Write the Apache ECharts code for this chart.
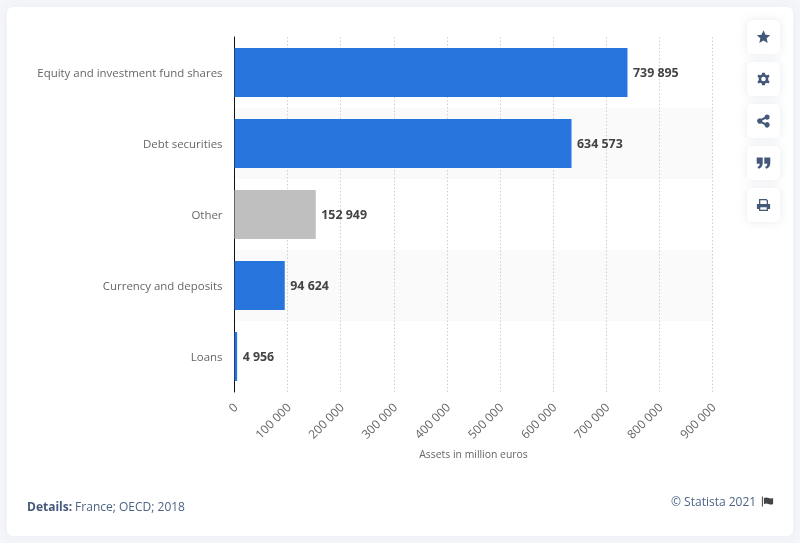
<!DOCTYPE html>
<html><head><meta charset="utf-8">
<script src="https://cdn.jsdelivr.net/npm/echarts@6/dist/echarts.min.js"></script>
<style>html,body{margin:0;padding:0;background:#f4f6fa;overflow:hidden}#c{width:800px;height:543px}</style>
</head><body><div id="c"></div>
<script>
const categories = ["Equity and investment fund shares","Debt securities","Other","Currency and deposits","Loans"];
const values = [739895,634573,152949,94624,4956];
const barColors = ["#2775dc","#2775dc","#bfbfbf","#2775dc","#2775dc"];
const xTicks = {min:0,max:900000,interval:100000};
const axisTitle = "Assets in million euros";
const detailsLabel = "Details:";
const detailsText = " France; OECD; 2018";
const credit = "© Statista 2021";
const FONT = "'Open Sans'";
const fmt = v => String(v).replace(/\B(?=(\d{3})+(?!\d))/g," ");
const ICON = "#44597a";
const buttonTops = [20,62,104,146,188];
const iconScale = [0.78,0.88,1,1,1];
const icons = [
 "M0,-8.5 L2.5,-2.8 L8.6,-2.4 L4,1.6 L5.4,7.6 L0,4.4 L-5.4,7.6 L-4,1.6 L-8.6,-2.4 L-2.5,-2.8 Z",
 "M-1.5,-7 L1.5,-7 L2,-5 L3.7,-4.2 L5.6,-5.2 L7,-3 L5.4,-1.5 L5.4,1.5 L7,3 L5.6,5.2 L3.7,4.2 L2,5 L1.5,7 L-1.5,7 L-2,5 L-3.7,4.2 L-5.6,5.2 L-7,3 L-5.4,1.5 L-5.4,-1.5 L-7,-3 L-5.6,-5.2 L-3.7,-4.2 L-2,-5 Z M0,-2.6 A2.6,2.6 0 1,0 0,2.6 A2.6,2.6 0 1,0 0,-2.6 Z",
 "M3.5,-6.5 A2.6,2.6 0 1,1 3.5,-1.3 A2.6,2.6 0 0,1 1.8,-2 L-1.3,-0.5 A2.6,2.6 0 0,1 -1.3,0.5 L1.8,2 A2.6,2.6 0 1,1 1,3.9 L-2.3,2.2 A2.6,2.6 0 1,1 -2.3,-2.2 L1,-3.9 A2.6,2.6 0 0,1 3.5,-6.5 Z",
 "M-6.8,-5.5 L-0.8,-5.5 L-0.8,0 Q-0.8,4.5 -5,5.8 L-6,4 Q-3.8,3.2 -3.6,0.8 L-6.8,0.8 Z M0.8,-5.5 L6.8,-5.5 L6.8,0 Q6.8,4.5 2.6,5.8 L1.6,4 Q3.8,3.2 4,0.8 L0.8,0.8 Z",
 "M-4.5,-6 L3,-6 L4.5,-4.5 L4.5,-1 L6.6,-1 L6.6,4 L4.5,4 L4.5,6 L-4.5,6 L-4.5,4 L-6.6,4 L-6.6,-1 L-4.5,-1 Z M-3.2,-4.8 L-3.2,-1 L3.2,-1 L3.2,-4 L2.5,-4.8 Z M-3.2,2.2 L-3.2,4.8 L3.2,4.8 L3.2,2.2 Z"
];
const flagPath = "M-5.6,-5 L-4.6,-5 L-4.6,5 L-5.6,5 Z M-3.6,-3.6 Q-1,-4.6 1,-3.4 Q3.5,-2.4 5.6,-3.6 L5.6,2.4 Q3.5,3.6 1,2.4 Q-1,1.4 -3.6,2.4 Z";
icons.forEach((d,i)=>echarts.graphic.registerShape("icon"+i, echarts.graphic.extendPath(d,{})));
echarts.graphic.registerShape("flagIcon", echarts.graphic.extendPath(flagPath,{}));
const graphic = [
 {type:"rect",z:-10,silent:true,shape:{x:7,y:7,width:786,height:529,r:6},
  style:{fill:"#fff",shadowBlur:12,shadowColor:"rgba(60,80,120,0.06)"}}
];
buttonTops.forEach((t,i)=>{
 graphic.push({type:"rect",z:5,silent:true,shape:{x:747,y:t,width:33,height:34,r:5},
  style:{fill:"#fff",shadowBlur:10,shadowColor:"rgba(60,80,120,0.12)"}});
 graphic.push({type:"icon"+i,z:6,silent:true,x:763.5,y:t+17,scaleX:iconScale[i],scaleY:iconScale[i],
  style:{fill:ICON,fillRule:"evenodd"}});
});
graphic.push({type:"text",z:6,x:27,y:502,style:{text:detailsLabel,fontFamily:"Open Sans",fontWeight:"bold",fontSize:12,fill:"#44597a"}});
graphic.push({type:"text",z:6,x:72,y:502,style:{text:detailsText,fontFamily:"Open Sans",fontSize:12,fill:"#4d6485"}});
graphic.push({type:"text",z:6,x:671,y:497,style:{text:credit,fontFamily:"Open Sans",fontSize:12,fill:"#4d6485"}});
graphic.push({type:"flagIcon",z:6,silent:true,x:767.5,y:501.5,style:{fill:"#444"}});

const chart = echarts.init(document.getElementById("c"),null,{renderer:"canvas"});
chart.setOption({
 animation:false,
 backgroundColor:"transparent",
 textStyle:{fontFamily:FONT},
 graphic:graphic,
 grid:{left:234.5,top:37,width:478,height:355,containLabel:false},
 xAxis:{type:"value",min:xTicks.min,max:xTicks.max,interval:xTicks.interval,
  name:axisTitle,nameLocation:"middle",nameGap:58,
  nameTextStyle:{fontFamily:FONT,fontSize:10.4,color:"#666"},
  axisLine:{show:false},axisTick:{show:false},
  axisLabel:{rotate:45,margin:12,verticalAlign:"top",lineHeight:5,fontFamily:FONT,fontSize:12,color:"#666",formatter:v=>fmt(v)},
  splitLine:{show:true,lineStyle:{color:"#cfcfcf",type:[1.5,2],width:1}}},
 yAxis:{type:"category",inverse:true,data:categories,
  axisLine:{show:true,lineStyle:{color:"#111",width:1}},axisTick:{show:false},
  axisLabel:{margin:12,verticalAlign:"top",lineHeight:2,fontFamily:FONT,fontSize:11.45,color:"#666"},
  splitLine:{show:false},
  splitArea:{show:true,areaStyle:{color:["#ffffff","#fafafa"]}}},
 series:[{type:"bar",barWidth:49,
  data:values.map((v,i)=>({value:v,itemStyle:{color:barColors[i]}})),
  label:{show:true,position:"right",distance:5.5,offset:[0,1],fontFamily:FONT,fontWeight:"bold",fontSize:12.4,color:"#444",
   formatter:p=>fmt(p.value)}}]
});
</script></body></html>
